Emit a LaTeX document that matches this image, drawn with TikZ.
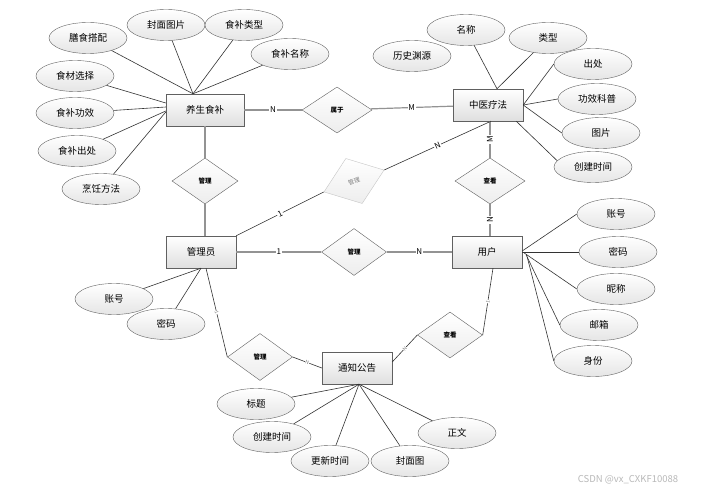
\documentclass[tikz,border=0pt]{standalone}
\usepackage{fontspec}
\setmainfont{Noto Sans CJK SC}
\usetikzlibrary{shapes.geometric}
\tikzset{
  entity/.style={draw=gray!75!black, top color=white, bottom color=gray!25, minimum width=70pt, minimum height=32pt, inner sep=0pt, font=\fontsize{9.5}{10}\selectfont},
  attr/.style={ellipse, draw=gray!75!black, top color=white, bottom color=gray!20, minimum width=78pt, minimum height=31pt, inner sep=0pt, font=\fontsize{9.5}{10}\selectfont},
  rel/.style={diamond, draw=gray!75!black, top color=white, bottom color=gray!14, minimum width=66pt, minimum height=46pt, inner sep=0pt, font=\bfseries\fontsize{6.5}{7}\selectfont},
  link/.style={draw=black!80, line width=0.6pt},
  rlink/.style={draw=gray!85, line width=1.2pt},
  card/.style={fill=white, inner sep=0.8pt, font=\fontsize{8}{8}\selectfont},
  tinylbl/.style={fill=white, inner sep=0.3pt, text=gray, font=\fontsize{5}{5}\selectfont},
}

\begin{document}
\begin{tikzpicture}[x=1pt, y=-1pt]
  \useasboundingbox[fill=white] (0,0) rectangle (711,494);

  % entities
  \node[entity, minimum width=78pt] (ysbu) at (205,110) {养生食补};
  \node[entity] (zyfa) at (488,105) {中医疗法};
  \node[entity] (admin) at (201,252) {管理员};
  \node[entity] (user) at (487,252) {用户};
  \node[entity] (notice) at (357,368) {通知公告};

  % relationships
  \node[rel, minimum width=70pt] (shuyu) at (337,110) {属于};
  \node[rel] (guanli1) at (205,181) {管理};
  \node[rel, minimum width=70pt] (chakan1) at (490,181) {查看};
  \node[rel, minimum width=65pt, minimum height=47pt] (guanli2) at (354,252) {管理};
  \node[rel, minimum width=65pt, minimum height=47pt] (guanli3) at (260,357) {管理};
  \node[rel, minimum width=65pt] (chakan2) at (450,335) {查看};
  \node[rel, draw=gray!45, text=gray, font=\fontsize{6}{6}\selectfont, rotate=20, minimum width=64pt, minimum height=48pt] (guanli4) at (354,181) {管理};

  % attributes of 养生食补
  \node[attr] (ys1) at (88,38) {膳食搭配};
  \node[attr] (ys2) at (166,25) {封面图片};
  \node[attr] (ys3) at (244,25) {食补类型};
  \node[attr] (ys4) at (290,54) {食补名称};
  \node[attr] (ys5) at (75,76) {食材选择};
  \node[attr] (ys6) at (75,113) {食补功效};
  \node[attr] (ys7) at (77,151) {食补出处};
  \node[attr] (ys8) at (101,189) {烹饪方法};

  % attributes of 中医疗法
  \node[attr] (zy0) at (412,56) {历史渊源};
  \node[attr] (zy1) at (466,30) {名称};
  \node[attr] (zy2) at (548,38) {类型};
  \node[attr] (zy3) at (593,64) {出处};
  \node[attr] (zy4) at (597,99) {功效科普};
  \node[attr] (zy5) at (601,133) {图片};
  \node[attr] (zy6) at (593,167) {创建时间};

  % attributes of 用户
  \node[attr] (us1) at (616,214) {账号};
  \node[attr] (us2) at (618,252) {密码};
  \node[attr] (us3) at (616,289) {昵称};
  \node[attr] (us4) at (599,325) {邮箱};
  \node[attr] (us5) at (593,361) {身份};

  % attributes of 管理员
  \node[attr] (ad1) at (114,299) {账号};
  \node[attr] (ad2) at (166,324) {密码};

  % attributes of 通知公告
  \node[attr] (nt1) at (256,404) {标题};
  \node[attr] (nt2) at (272,437) {创建时间};
  \node[attr] (nt3) at (330,461) {更新时间};
  \node[attr] (nt4) at (410,461) {封面图};
  \node[attr] (nt5) at (457,433) {正文};

  \node[text=gray!55, font=\fontsize{9.5}{10}\selectfont] (wm) at (628,480) {CSDN @vx\_CXKF10088};

  % relationship lines
  \draw[rlink] (ysbu) -- node[card]{N} (shuyu);
  \draw[rlink] (shuyu) -- node[card]{M} (zyfa);
  \draw[rlink] (ysbu) -- (guanli1);
  \draw[rlink] (guanli1.south) -- (guanli1.south |- admin.north);
  \draw[rlink] (chakan1.north) -- node[card, rotate=90]{M} (chakan1.north |- zyfa.south);
  \draw[rlink] (chakan1.south) -- node[card, rotate=90]{N} (chakan1.south |- user.north);
  \draw[rlink] (admin) -- node[card]{1} (guanli2);
  \draw[rlink] (guanli2) -- node[card]{N} (user);
  \draw[link] (admin.north east) -- node[card, sloped]{1} (guanli4.west);
  \draw[link] (guanli4.east) -- node[card, sloped]{N} ([xshift=3pt]zyfa.south);
  \draw[link] ([xshift=5pt]admin.south) -- node[tinylbl, sloped]{1} (guanli3.west);
  \draw[link] (guanli3.east) -- node[tinylbl, sloped]{N} (notice.west);
  \draw[link] ([xshift=6pt]user.south) -- node[tinylbl, sloped]{1} (chakan2.east);
  \draw[link] (chakan2.west) -- node[tinylbl, sloped]{N} ([yshift=6pt]notice.east);

  % attribute lines
  \foreach \a in {ys1,ys2,ys3,ys4}
    \draw[link] (\a) -- ([xshift=-12pt]ysbu.north);
  \draw[link] (ys5) -- ([yshift=7pt]ysbu.west);
  \draw[link] (ys6) -- ([yshift=3pt]ysbu.west);
  \draw[link] (ys7) -- ([yshift=-1pt]ysbu.west);
  \draw[link] (ys8) -- ([yshift=-2pt]ysbu.west);

  \foreach \a in {zy1,zy2}
    \draw[link] (\a) -- ([xshift=9pt]zyfa.north);
  \foreach \a in {zy3,zy4,zy5}
    \draw[link] (\a.west) -- (zyfa.east);
  \draw[link] (zy6.170) -- ([xshift=-7pt]zyfa.south east);

  \draw[link] (us1.west) -- ([yshift=1pt]user.east);
  \draw[link] (us2.west) -- (user.east);
  \draw[link] (us3.west) -- ([xshift=2pt,yshift=-1pt]user.east);
  \draw[link] (us4.west) -- ([xshift=4pt,yshift=-3pt]user.east);
  \draw[link] (us5.west) -- ([xshift=5pt,yshift=-5pt]user.east);

  \foreach \a in {ad1,ad2}
    \draw[link] (\a) -- (admin.south);

  \foreach \a in {nt1,nt2,nt3,nt4,nt5}
    \draw[link] (\a) -- ([xshift=2pt]notice.south);
\end{tikzpicture}
\end{document}
